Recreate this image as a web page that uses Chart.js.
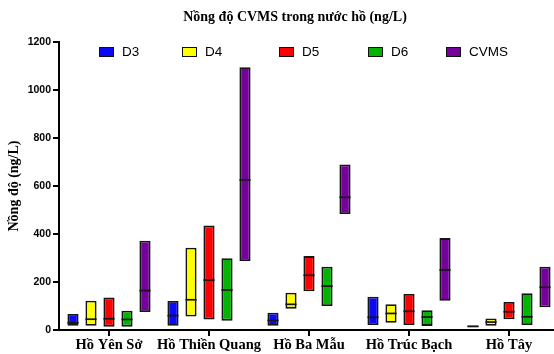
<!DOCTYPE html>
<html>
<head>
<meta charset="utf-8">
<script src="https://cdn.jsdelivr.net/npm/chart.js@4.4.1/dist/chart.umd.min.js"></script>
<style>
  html, body { margin: 0; padding: 0; background: #fff; }
  #wrap { position: relative; width: 554px; height: 354px; overflow: hidden; }
  #chart { position: absolute; left: 0; top: 0; }
  #title { position: absolute; top: 9px; left: 295px; transform: translateX(-50%); white-space: nowrap;
           font: bold 14px "Liberation Serif", "Times New Roman", serif; color: #000; }
  .leg { position: absolute; top: 44px; display: flex; align-items: center;
         font: 13.5px "Liberation Sans", Arial, sans-serif; color: #000; }
  .leg span.box { display: inline-block; width: 13px; height: 8px; border: 1.5px solid #111; margin-right: 8px; }
</style>
</head>
<body>
<div id="wrap">
  <canvas id="chart" width="562" height="354"></canvas>
  <div id="title">Nồng độ CVMS trong nước hồ (ng/L)</div>
  <div id="legend"></div>
</div>
<script>
// Lakes sampled and siloxane compounds measured
const lakes = ['Hồ Yên Sở', 'Hồ Thiền Quang', 'Hồ Ba Mẫu', 'Hồ Trúc Bạch', 'Hồ Tây'];
const compounds = ['D3', 'D4', 'D5', 'D6', 'CVMS'];
const colors = ['#0a0af5', '#ffff00', '#ff0000', '#00b400', '#75009c'];

// Concentration ranges (ng/L): minimum, median, maximum per lake
const d3Min = [18, 18, 18, 21, 11];
const d3Med = [30, 60, 40, 53, 15];
const d3Max = [67, 121, 72, 139, 19];

const d4Min = [18, 56, 89, 30, 18];
const d4Med = [45, 126, 107, 69, 33];
const d4Max = [122, 343, 155, 107, 48];

const d5Min = [14, 44, 161, 21, 45];
const d5Med = [47, 208, 228, 78, 76];
const d5Max = [135, 435, 308, 150, 117];

const d6Min = [14, 39, 100, 17, 21];
const d6Med = [44, 167, 183, 54, 55];
const d6Max = [80, 299, 264, 82, 153];

const cvMin = [75, 287, 483, 122, 95];
const cvMed = [164, 625, 553, 250, 178];
const cvMax = [372, 1095, 690, 383, 264];

// Y axis ticks
const yTicks = [0, 200, 400, 600, 800, 1000, 1200];

const mins = [d3Min, d4Min, d5Min, d6Min, cvMin];
const meds = [d3Med, d4Med, d5Med, d6Med, cvMed];
const maxs = [d3Max, d4Max, d5Max, d6Max, cvMax];

const datasets = compounds.map((name, i) => ({
  label: name,
  data: lakes.map((_, j) => [mins[i][j], maxs[i][j]]),
  medians: meds[i],
  backgroundColor: colors[i],
  borderColor: '#151515',
  borderWidth: 1.8,
  borderSkipped: false,
  categoryPercentage: 0.9,
  barPercentage: 0.62
}));

// Horizontal median line across each floating bar
const medianLines = {
  id: 'medianLines',
  afterDatasetsDraw(chart) {
    const ctx = chart.ctx;
    const y = chart.scales.y;
    ctx.save();
    ctx.strokeStyle = '#151515';
    ctx.lineWidth = 1.7;
    chart.data.datasets.forEach((ds, i) => {
      const meta = chart.getDatasetMeta(i);
      meta.data.forEach((bar, j) => {
        const py = y.getPixelForValue(ds.medians[j]);
        ctx.beginPath();
        ctx.moveTo(bar.x - bar.width / 2, py);
        ctx.lineTo(bar.x + bar.width / 2, py);
        ctx.stroke();
      });
    });
    ctx.restore();
  }
};

new Chart(document.getElementById('chart'), {
  type: 'bar',
  data: { labels: lakes, datasets },
  plugins: [medianLines],
  options: {
    responsive: false,
    animation: false,
    layout: { padding: { top: 42, right: 3, bottom: 0, left: 0 } },
    plugins: { legend: { display: false }, title: { display: false }, tooltip: { enabled: false } },
    scales: {
      x: {
        grid: { display: true, drawOnChartArea: false, drawTicks: true, tickLength: 6, color: '#000', lineWidth: 2, offset: false },
        border: { display: true, color: '#000', width: 2 },
        ticks: { color: '#000', padding: 1, maxRotation: 0, minRotation: 0, autoSkip: false,
                 font: { family: '"Liberation Serif", "Times New Roman", serif', size: 14.5, weight: 'bold' } },
        afterFit(scale) { scale.height = 24; }
      },
      y: {
        min: 0, max: 1200,
        afterBuildTicks(scale) { scale.ticks = yTicks.map(v => ({ value: v })); },
        grid: { display: true, drawOnChartArea: false, drawTicks: true, tickLength: 6, color: '#000', lineWidth: 2 },
        border: { display: true, color: '#000', width: 2 },
        ticks: { color: '#000', padding: 2, callback: v => String(v),
                 font: { family: '"Liberation Sans", Arial, sans-serif', size: 10.5, weight: 'bold' } },
        title: { display: true, text: 'Nồng độ (ng/L)', color: '#000', padding: { top: 6, bottom: 0 },
                 font: { family: '"Liberation Serif", "Times New Roman", serif', size: 14, weight: 'bold' } },
        afterFit(scale) { scale.width = 59; }
      }
    }
  }
});

// Legend row
const legendLeft = [99, 182, 279, 368, 446];
const legend = document.getElementById('legend');
compounds.forEach((name, i) => {
  const item = document.createElement('div');
  item.className = 'leg';
  item.style.left = legendLeft[i] + 'px';
  const box = document.createElement('span');
  box.className = 'box';
  box.style.background = colors[i];
  item.appendChild(box);
  item.appendChild(document.createTextNode(name));
  legend.appendChild(item);
});
</script>
</body>
</html>
